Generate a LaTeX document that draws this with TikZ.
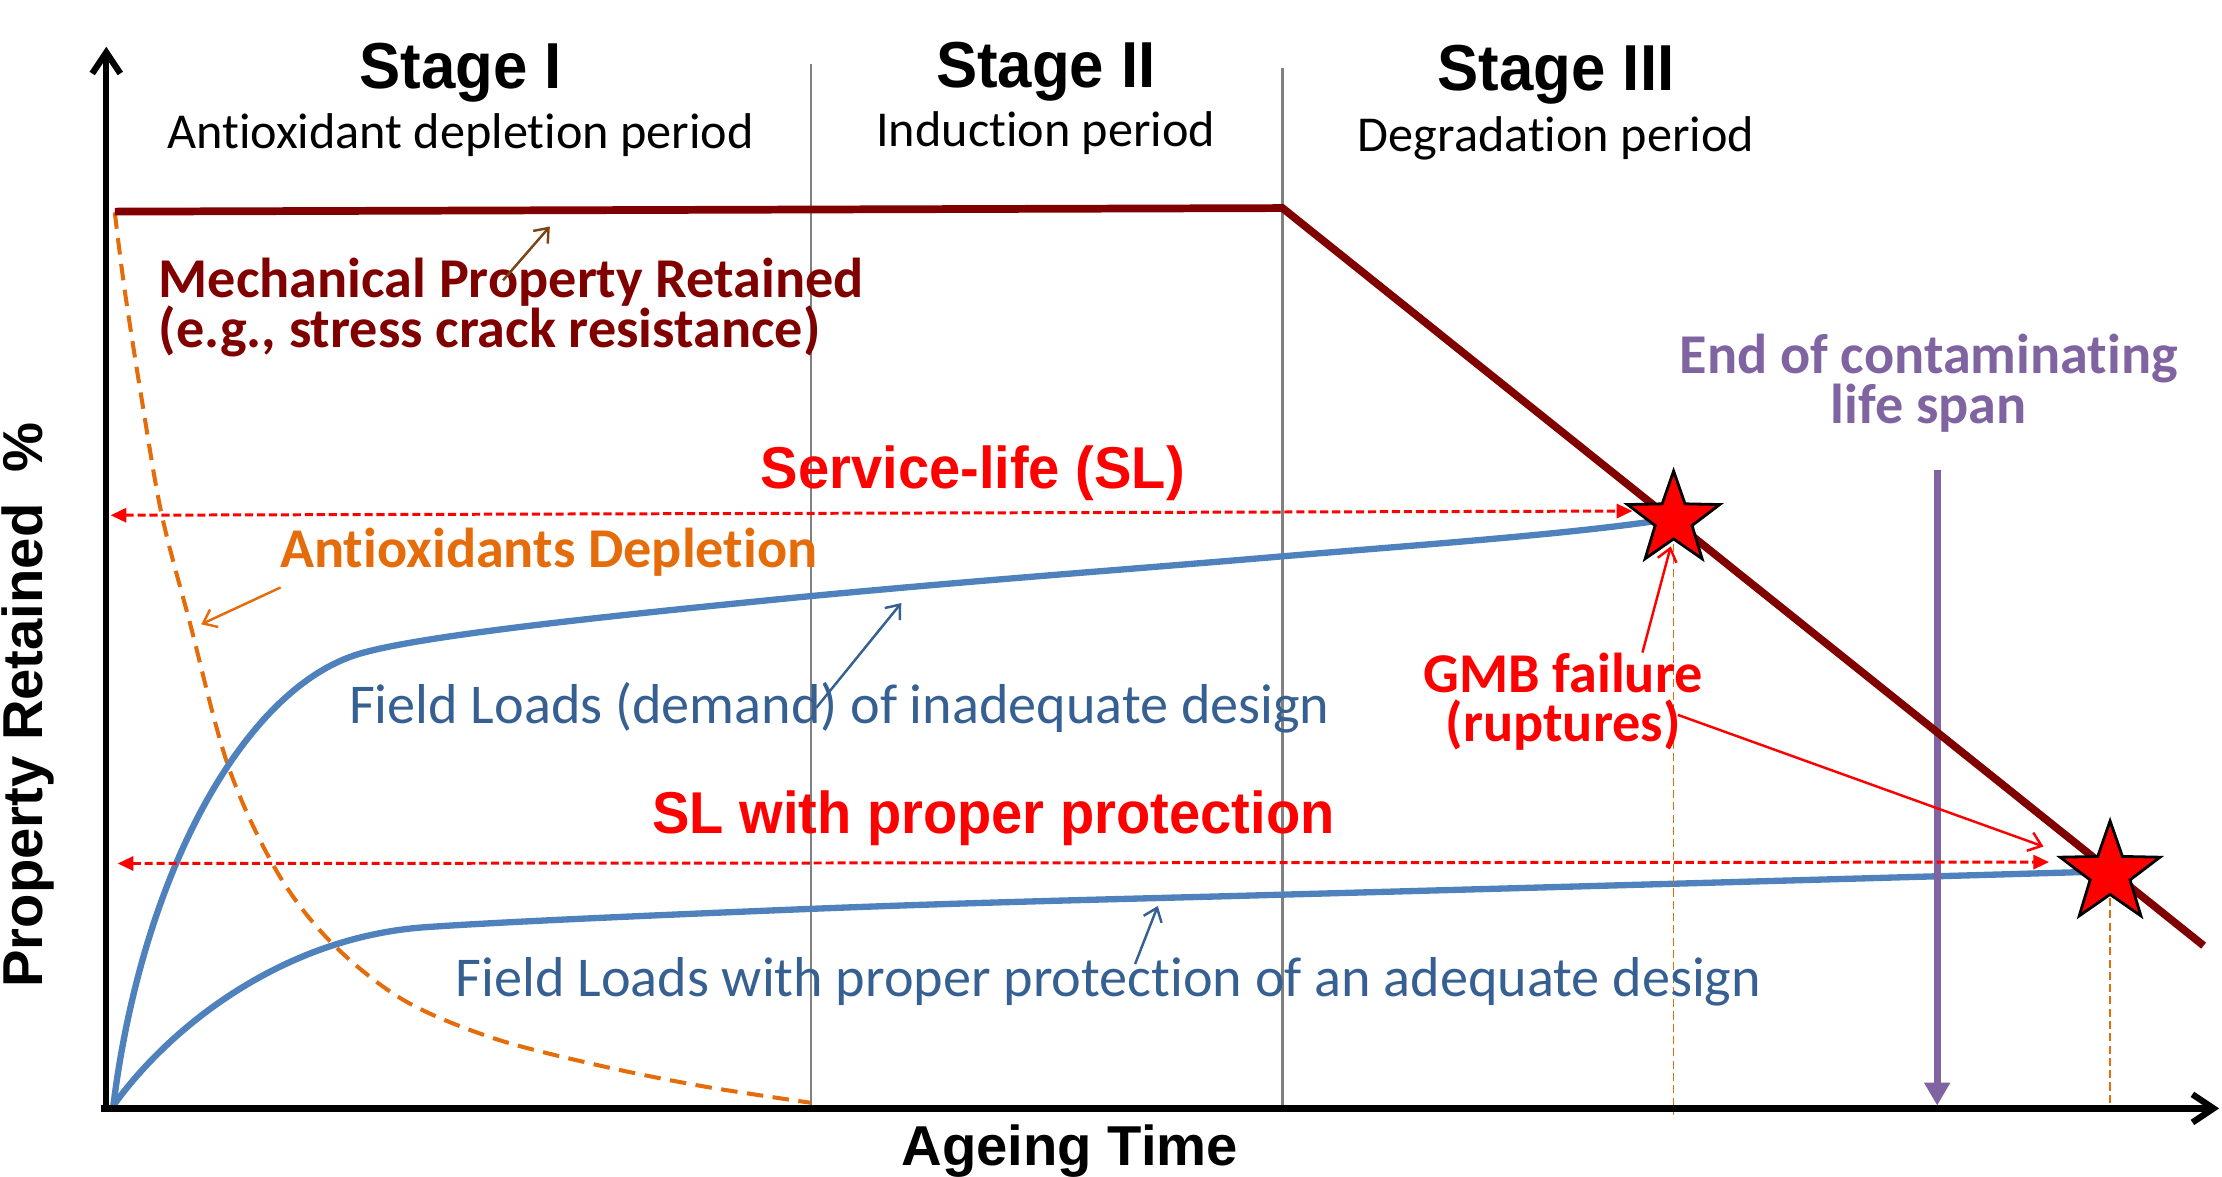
\documentclass[tikz,border=0pt]{standalone}
\usepackage{fontspec}
\usetikzlibrary{arrows.meta,shapes.geometric}

\newfontfamily\arialf{Liberation Sans}
\newfontfamily\arialn{Liberation Sans}[FakeStretch=0.95]
\newfontfamily\calib{Carlito}[Ligatures=NoCommon]

\definecolor{mechred}{HTML}{800000}
\definecolor{aoorange}{HTML}{E46C0A}
\definecolor{curveblue}{HTML}{4F81BD}
\definecolor{labelblue}{HTML}{376092}
\definecolor{spanpurple}{HTML}{8064A2}
\definecolor{arrowbrown}{HTML}{7A4516}
\definecolor{dividergray}{HTML}{808080}
\definecolor{slred}{HTML}{FF0000}

% two-line labels whose reference point is the first baseline
\newcommand{\labelstackc}[3]{\vtop{\baselineskip=#1\lineskip=0pt\lineskiplimit=-100pt
  \halign{\hfil##\hfil\cr #2\cr #3\cr}}}
\newcommand{\labelstackl}[3]{\vtop{\baselineskip=#1\lineskip=0pt\lineskiplimit=-100pt
  \halign{##\hfil\cr #2\cr #3\cr}}}

\begin{document}
\begin{tikzpicture}[
  x=0.0141709cm, y=-0.0141637cm,
  txt/.style={inner sep=0pt, outer sep=0pt, anchor=base},
  stagehd/.style={txt, font=\arialn\bfseries\fontsize{18.5}{20}\selectfont},
  stagesub/.style={txt, font=\calib\fontsize{14.3}{16}\selectfont},
  bigred/.style={txt, text=slred, font=\arialn\bfseries\fontsize{16.8}{18}\selectfont},
  axislbl/.style={txt, font=\arialf\bfseries\fontsize{16}{18}\selectfont},
  callout/.style={txt, font=\calib\bfseries\fontsize{16}{17}\selectfont},
  bluelbl/.style={txt, text=labelblue, anchor=base west, font=\calib\fontsize{16}{17}\selectfont},
  divider/.style={draw=dividergray, line width=0.6pt},
  axisline/.style={draw=black, line width=1.8pt, -{Straight Barb[length=6pt,width=8pt]}},
  mechline/.style={draw=mechred, line width=2.2pt},
  loadcurve/.style={draw=curveblue, line width=1.8pt},
  aodash/.style={draw=aoorange, line width=1.15pt, dash pattern=on 4.7pt off 2.7pt},
  sldash/.style={draw=slred, line width=0.85pt, dash pattern=on 2.3pt off 1.1pt,
    {Triangle[length=4.5pt,width=4pt]}-{Triangle[length=4.5pt,width=4pt]}},
  dropline/.style={draw=aoorange, line width=0.5pt, dash pattern=on 2.3pt off 1.2pt},
  pointer/.style={line width=0.7pt, -{Straight Barb[length=3.5pt,width=5.5pt]}},
  spanarrow/.style={draw=spanpurple, line width=2pt, -{Triangle[length=6.5pt,width=7pt]}},
  failstar/.style={star, star points=5, star point ratio=2.5, fill=slred,
    draw=black, line width=0.8pt, inner sep=0pt}
]
\useasboundingbox (0,0) rectangle (1568,831);

% stage boundaries
\draw[divider] (572,45) -- (572,783);
\draw[divider] (905,48) -- (905,783);

% antioxidant depletion curve
\draw[aodash] plot[smooth, tension=0.55] coordinates {
  (81,150) (88,205) (100,282) (114,363) (134,440) (161,541) (195,615)
  (233,665) (284,706) (347,733) (420,752) (494,767) (572,779)};

% field load curves
\draw[loadcurve] (80,781) .. controls (100,620) and (170,490) .. (250,463)
  .. controls (290,449.5) and (430,435) .. (573,421)
  .. controls (700,409) and (800,402) .. (905,393)
  .. controls (1000,385) and (1100,378) .. (1169,368);
\draw[loadcurve] (80,781) .. controls (120,725) and (200,662) .. (300,655)
  .. controls (350,651.5) and (450,647) .. (573,642)
  .. controls (700,637) and (800,635) .. (905,632)
  .. controls (1050,628) and (1300,621) .. (1471,616);

% end of contaminating life span
\coordinate (span-top) at (1367,332);
\coordinate (span-end) at (1367,781);
\draw[spanarrow] (span-top) -- (span-end);

% mechanical property retained
\coordinate (mech-a) at (81,149.5);
\coordinate (mech-b) at (905,147);
\coordinate (mech-c) at (1555,668);
\draw[mechline] (mech-a) -- (mech-b) -- (mech-c);

% failure points
\coordinate (fail1) at (1181,367);
\coordinate (fail2) at (1489,617);
\coordinate (fail1-foot) at (1181,788);
\coordinate (fail2-foot) at (1489,783);
\draw[dropline] (fail1) -- (fail1-foot);
\draw[dropline] (fail2) -- (fail2-foot);

% service-life spans
\coordinate (sl-left) at (78,364);
\coordinate (sl-right) at (1152,361);
\coordinate (slp-left) at (83,610);
\coordinate (slp-right) at (1446,609);
\draw[sldash] (sl-left) -- (sl-right);
\draw[sldash] (slp-left) -- (slp-right);

% axes
\coordinate (origin) at (75,785);
\coordinate (y-top) at (75,33);
\coordinate (x-start) at (71,783);
\coordinate (x-end) at (1566,783);
\draw[axisline] (origin) -- (y-top);
\draw[axisline] (x-start) -- (x-end);

\node[failstar, minimum size=0.97cm] (star1) at (fail1) {};
\node[failstar, minimum size=1.05cm] (star2) at (fail2) {};

% stage headings
\node[stagehd] (st1) at (325,62.3) {Stage I};
\node[stagehd] (st2) at (738,61.6) {Stage II};
\node[stagehd] (st3) at (1098,64) {Stage III};
\node[stagesub] (sub1) at (325,104.7) {Antioxidant depletion period};
\node[stagesub] (sub2) at (738,103.5) {Induction period};
\node[stagesub] (sub3) at (1098,107) {Degradation period};

% curve labels
\node[callout, text=mechred, anchor=base west] (mech) at (112,210.5)
  {\labelstackl{14.2pt}{Mechanical Property Retained}{(e.g., stress crack resistance)}};
\node[callout, text=spanpurple] (endspan) at (1361,264)
  {\labelstackc{14.1pt}{End of contaminating}{life span}};
\node[callout, text=slred] (gmb) at (1103,489)
  {\labelstackc{13.9pt}{GMB failure}{(ruptures)}};
\node[callout, text=aoorange, anchor=base west] (aolbl) at (197.7,401) {Antioxidants Depletion};
\node[bigred] (sllbl) at (686.5,345) {Service-life (SL)};
\node[bigred] (slplbl) at (701,588.6) {SL with proper protection};
\node[bluelbl] (fl1) at (246.4,511) {Field Loads (demand) of inadequate design};
\node[bluelbl] (fl2) at (321.6,704) {Field Loads with proper protection of an adequate design};

% axis titles
\node[axislbl] (xlbl) at (755,823) {Ageing Time};
\node[axislbl, rotate=90] (ylbl) at (30,498) {Property Retained\ \ \%};

% label pointers
\coordinate (mp-from) at (355,198);
\coordinate (mp-to) at (388,160);
\draw[pointer, draw=arrowbrown] (mp-from) -- (mp-to);
\coordinate (ao-from) at (198,415);
\coordinate (ao-to) at (142,441);
\draw[pointer, draw=aoorange] (ao-from) -- (ao-to);
\coordinate (fl1-from) at (576,500);
\coordinate (fl1-to) at (636,426);
\draw[pointer, draw=labelblue] (fl1-from) -- (fl1-to);
\coordinate (fl2-from) at (801,681);
\coordinate (fl2-to) at (817,640);
\draw[pointer, draw=labelblue] (fl2-from) -- (fl2-to);
\coordinate (gmb-a-from) at (1159,461);
\coordinate (gmb-a-to) at (1179,386);
\draw[pointer, draw=slred] (gmb-a-from) -- (gmb-a-to);
\coordinate (gmb-b-from) at (1184,505);
\coordinate (gmb-b-to) at (1442,598);
\draw[pointer, draw=slred] (gmb-b-from) -- (gmb-b-to);
\end{tikzpicture}
\end{document}
